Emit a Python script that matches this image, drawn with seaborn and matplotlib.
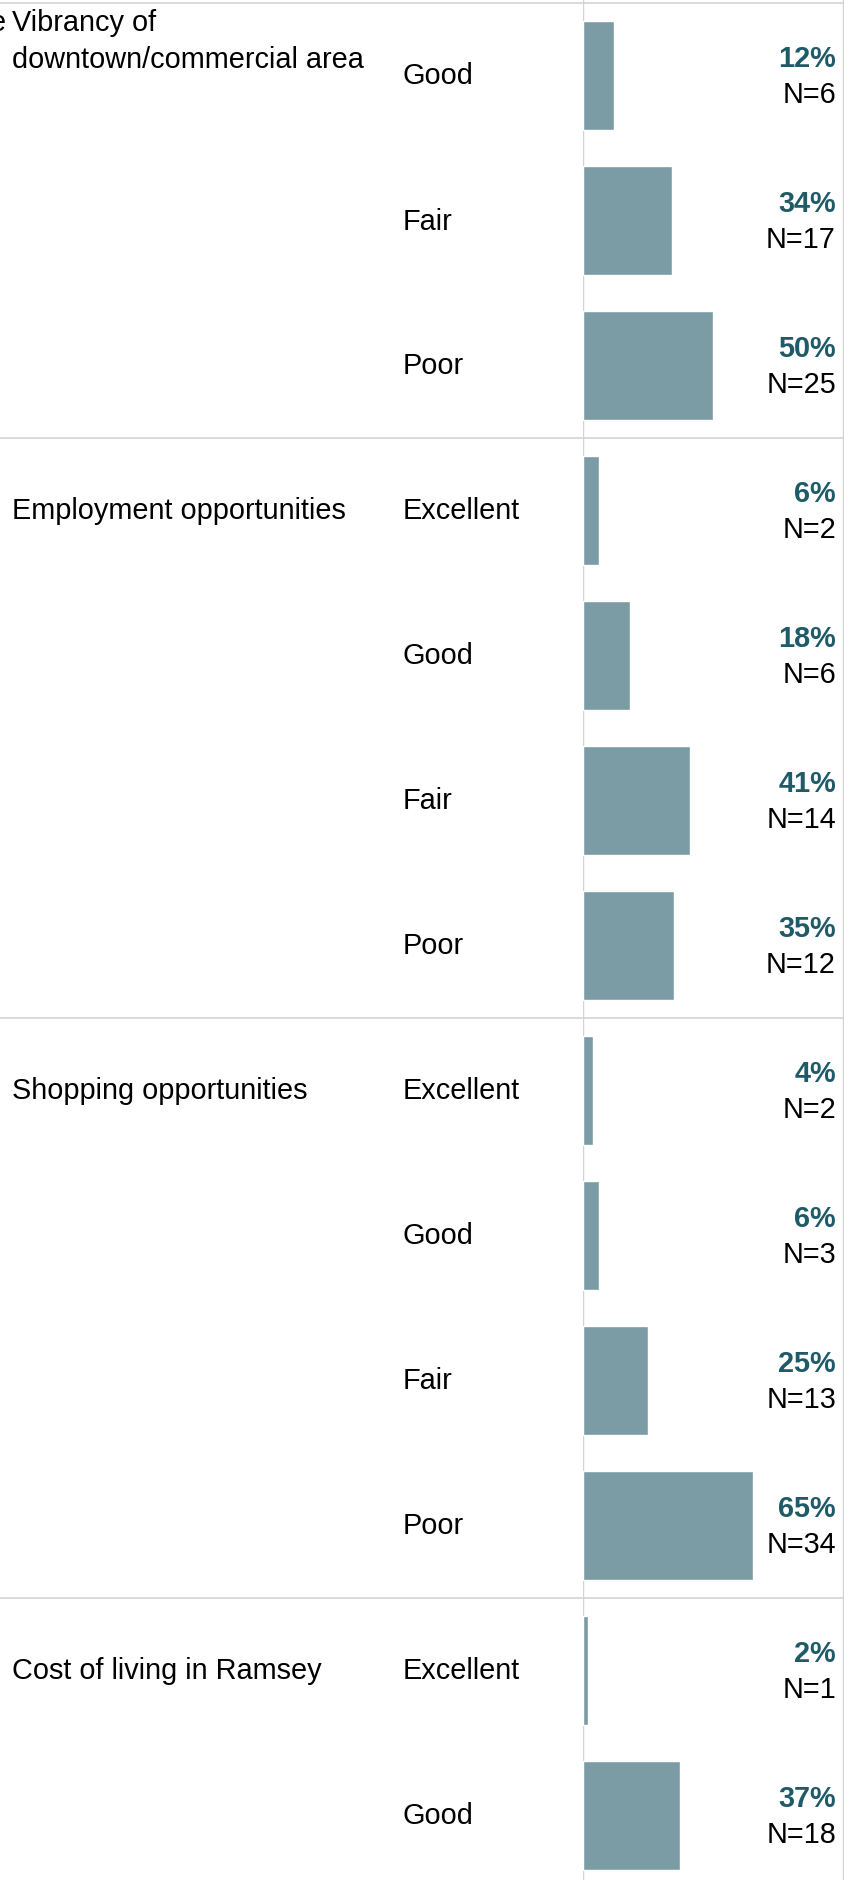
import matplotlib
matplotlib.use("Agg")
import matplotlib.pyplot as plt
import seaborn as sns
import pandas as pd
from matplotlib.transforms import blended_transform_factory

# ---- data ----
groups = ["Vibrancy of\ndowntown/commercial area", "Employment opportunities",
          "Shopping opportunities", "Cost of living in Ramsey"]
row_group = [0, 0, 0, 1, 1, 1, 1, 2, 2, 2, 2, 3, 3]
ratings = ["Good", "Fair", "Poor",
           "Excellent", "Good", "Fair", "Poor",
           "Excellent", "Good", "Fair", "Poor",
           "Excellent", "Good"]
pct = [12, 34, 50, 6, 18, 41, 35, 4, 6, 25, 65, 2, 37]
n_count = [6, 17, 25, 2, 6, 14, 12, 2, 3, 13, 34, 1, 18]

# ---- style ----
BAR = "#7b9ca4"
PCT_COL = "#1f5a68"
GRID = "#d3d3d3"
FS = 20.8

sns.set_theme(style="white")
plt.rcParams['font.family'] = ['Liberation Sans', 'DejaVu Sans']

W, H = 854, 1881
PITCH = 145.0
fig = plt.figure(figsize=(W / 100, H / 100), dpi=100)
ax = fig.add_axes([583 / W, 0, 261 / W, 1])

df = pd.DataFrame({"row": [f"r{i}" for i in range(len(pct))], "pct": pct})
sns.barplot(data=df, x="pct", y="row", orient="h", color=BAR, saturation=1,
            width=0.75, ax=ax)
ax.set_xlim(0, 100)
ax.set_ylim(12 + 64.5 / PITCH, -0.5 - 4 / PITCH)
ax.axis("off")

trans = blended_transform_factory(fig.transFigure, ax.transData)

# vertical lines
ax.axvline(0, color=GRID, lw=1.0, zorder=0)
ax.axvline(100 * 260 / 261, color=GRID, lw=1.0, zorder=0)

# horizontal separators (top + group boundaries)
bounds = [-0.5]
for i in range(1, len(row_group)):
    if row_group[i] != row_group[i - 1]:
        bounds.append(i - 0.5)
for b in bounds:
    ax.plot([0, 843 / W], [b, b], transform=trans, color=GRID, lw=1.2,
            clip_on=False, zorder=0)

# cut-off fragment of a preceding column at the left edge
ax.text(6 / W, -(76.5 - 23) / PITCH, "e", transform=trans, fontsize=FS,
        ha="right", va="center", color="black")

# labels
seen = set()
for i, (g, r, p, n) in enumerate(zip(row_group, ratings, pct, n_count)):
    if g not in seen:
        seen.add(g)
        lines = groups[g].split("\n")
        if len(lines) == 1:
            ax.text(12 / W, i, lines[0], transform=trans, fontsize=FS,
                    ha="left", va="center", color="black")
        else:
            ax.text(12 / W, i - (76.5 - 23) / PITCH, lines[0], transform=trans,
                    fontsize=FS, ha="left", va="center", color="black")
            ax.text(12 / W, i - (76.5 - 60) / PITCH, lines[1], transform=trans,
                    fontsize=FS, ha="left", va="center", color="black")
    ax.text(403 / W, i, r, transform=trans, fontsize=FS, ha="left",
            va="center", color="black")
    ax.text(836 / W, i - 17.5 / PITCH, f"{p}%", transform=trans, fontsize=FS,
            ha="right", va="center", color=PCT_COL, fontweight="bold")
    ax.text(836 / W, i + 18.5 / PITCH, f"N={n}", transform=trans, fontsize=FS,
            ha="right", va="center", color="black")

fig.savefig("out.png", dpi=100)
